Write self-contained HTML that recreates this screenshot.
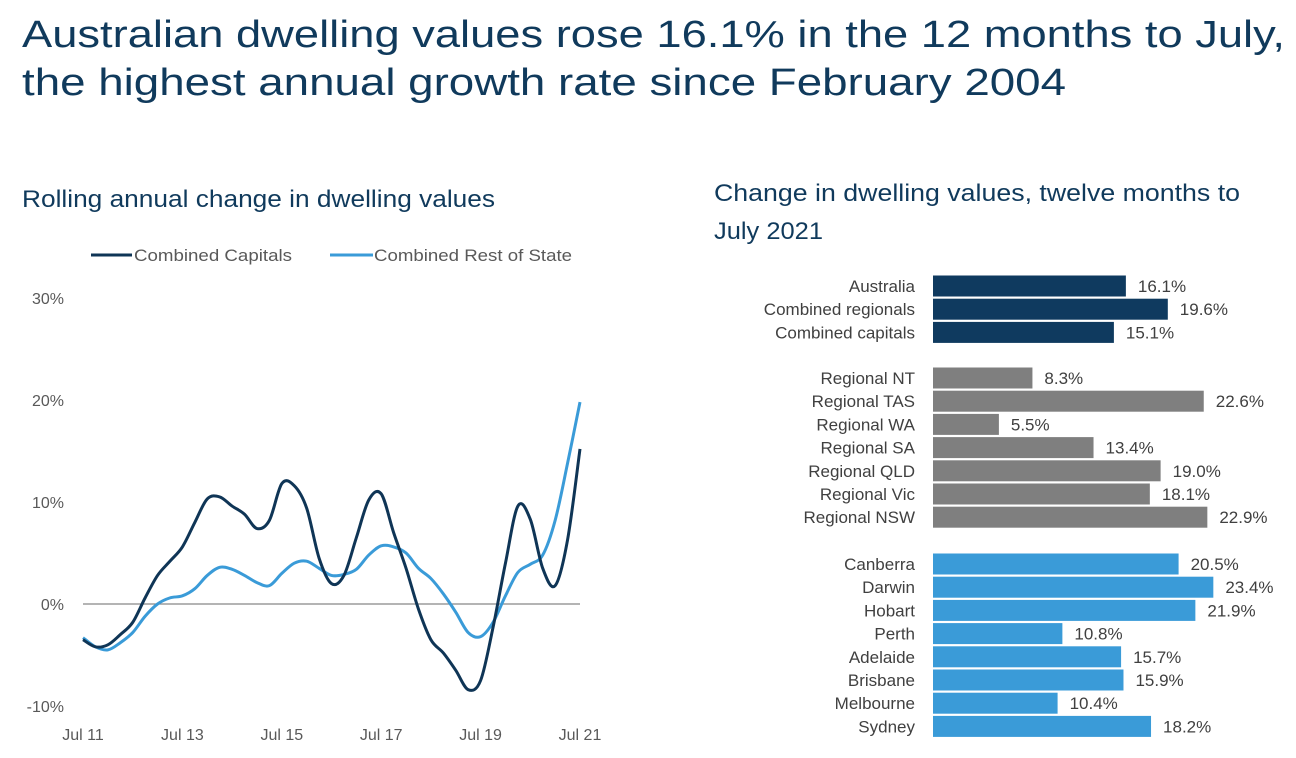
<!DOCTYPE html>
<html><head><meta charset="utf-8">
<style>
html,body{margin:0;padding:0;background:#fff;width:1296px;height:758px;overflow:hidden}
svg{display:block;font-family:"Liberation Sans",sans-serif}
</style></head>
<body>
<svg id="page" width="1296" height="758" viewBox="0 0 1296 758">
<text x="22" y="47" font-size="38" fill="#103a5c" textLength="1263" lengthAdjust="spacingAndGlyphs">Australian dwelling values rose 16.1% in the 12 months to July,</text>
<text x="22" y="95" font-size="38" fill="#103a5c" textLength="1044" lengthAdjust="spacingAndGlyphs">the highest annual growth rate since February 2004</text>
<text x="22" y="207" font-size="24" fill="#103a5c" textLength="473" lengthAdjust="spacingAndGlyphs">Rolling annual change in dwelling values</text>
<text x="714" y="201" font-size="24" fill="#103a5c" textLength="526" lengthAdjust="spacingAndGlyphs">Change in dwelling values, twelve months to</text>
<text x="714" y="239" font-size="24" fill="#103a5c" textLength="109" lengthAdjust="spacingAndGlyphs">July 2021</text>
<g>
<line x1="91" y1="255" x2="132" y2="255" stroke="#0f3556" stroke-width="3"/>
<text x="134" y="261" font-size="17" fill="#595959" textLength="158" lengthAdjust="spacingAndGlyphs">Combined Capitals</text>
<line x1="330" y1="255" x2="373" y2="255" stroke="#3a9bd8" stroke-width="3"/>
<text x="374" y="261" font-size="17" fill="#595959" textLength="198" lengthAdjust="spacingAndGlyphs">Combined Rest of State</text>
</g>
<g id="line-chart"></g>
<g id="bar-chart"></g>
</svg>
<script>
const xLabels = ["Jul 11","Jul 13","Jul 15","Jul 17","Jul 19","Jul 21"];
const yTicks = [-10,0,10,20,30];
const capitals = [-3.5,-4.2,-4.0,-3.0,-1.8,0.6,2.8,4.2,5.6,8.0,10.3,10.5,9.6,8.8,7.4,8.2,11.8,11.6,9.4,4.5,2.0,2.8,6.5,10.2,10.8,7.0,3.5,-0.5,-3.5,-4.8,-6.5,-8.4,-7.5,-2.3,4.0,9.6,8.3,3.5,1.8,6.3,15.2];
const restOfState = [-3.3,-4.2,-4.5,-3.8,-2.8,-1.2,0.0,0.6,0.8,1.5,2.8,3.6,3.4,2.8,2.1,1.8,3.0,4.0,4.2,3.5,2.8,2.9,3.4,4.8,5.7,5.6,5.0,3.5,2.5,1.0,-0.8,-2.8,-3.2,-1.8,0.8,3.1,3.9,4.8,8.2,13.8,19.8];

const barCategories = ["Australia","Combined regionals","Combined capitals","Regional NT","Regional TAS","Regional WA","Regional SA","Regional QLD","Regional Vic","Regional NSW","Canberra","Darwin","Hobart","Perth","Adelaide","Brisbane","Melbourne","Sydney"];
const barValues = [16.1,19.6,15.1,8.3,22.6,5.5,13.4,19.0,18.1,22.9,20.5,23.4,21.9,10.8,15.7,15.9,10.4,18.2];
const barGroups = [0,0,0,1,1,1,1,1,1,1,2,2,2,2,2,2,2,2];

const NS="http://www.w3.org/2000/svg";
function mk(tag,attrs,parent){const e=document.createElementNS(NS,tag);for(const k in attrs)e.setAttribute(k,attrs[k]);parent.appendChild(e);return e;}

// line chart
const lc=document.getElementById('line-chart');
const X0=83,X1=580,Y0=604,PX=10.2;
const nPts=capitals.length;
const xs=i=>X0+(X1-X0)*i/(nPts-1);
const ys=v=>Y0-v*PX;
yTicks.forEach(t=>{
  const tx=mk('text',{x:64,y:ys(t)+6,'font-size':16,fill:'#595959','text-anchor':'end'},lc);
  tx.textContent=t+'%';
  
  
});
xLabels.forEach((l,i)=>{
  const tx=mk('text',{x:X0+(X1-X0)*i/(xLabels.length-1),y:740,'font-size':16,fill:'#595959','text-anchor':'middle'},lc);
  tx.textContent=l;
  
  
});
const zl=mk('line',{x1:X0,y1:ys(0),x2:X1,y2:ys(0),stroke:'#888','stroke-width':1.2},lc);


function smooth(vals){
  const p=vals.map((v,i)=>[xs(i),ys(v)]);
  let d='M'+p[0][0]+','+p[0][1];
  for(let i=0;i<p.length-1;i++){
    const a=p[Math.max(i-1,0)],b=p[i],c=p[i+1],e=p[Math.min(i+2,p.length-1)];
    d+=' C'+(b[0]+(c[0]-a[0])/6)+','+(b[1]+(c[1]-a[1])/6)+' '+(c[0]-(e[0]-b[0])/6)+','+(c[1]-(e[1]-b[1])/6)+' '+c[0]+','+c[1];
  }
  return d;
}
const pr=mk('path',{d:smooth(restOfState),fill:'none',stroke:'#3a9bd8','stroke-width':3,'stroke-linejoin':'round'},lc);


const pc=mk('path',{d:smooth(capitals),fill:'none',stroke:'#0f3556','stroke-width':3,'stroke-linejoin':'round'},lc);



// bar chart
const bc=document.getElementById('bar-chart');
const BX0=933,BS=11.98,STEP=23.2,BH=21;
const groupStart=[286,378,564];
const colors=['#0f3a5f','#7f7f7f','#3a9bd8'];
const cnt=[0,0,0];
barCategories.forEach((c,i)=>{
  const g=barGroups[i];
  const cy=groupStart[g]+STEP*cnt[g]; cnt[g]++;
  const r=mk('rect',{x:BX0,y:cy-BH/2,width:barValues[i]*BS,height:BH,fill:colors[g]},bc);
  
  
  const lb=mk('text',{x:915,y:cy+6,'font-size':17,fill:'#404040','text-anchor':'end'},bc);
  lb.textContent=c;
  
  
  const vl=mk('text',{x:BX0+barValues[i]*BS+12,y:cy+6,'font-size':17,fill:'#404040'},bc);
  vl.textContent=barValues[i].toFixed(1)+'%';
  
  
});
</script>
</body></html>
